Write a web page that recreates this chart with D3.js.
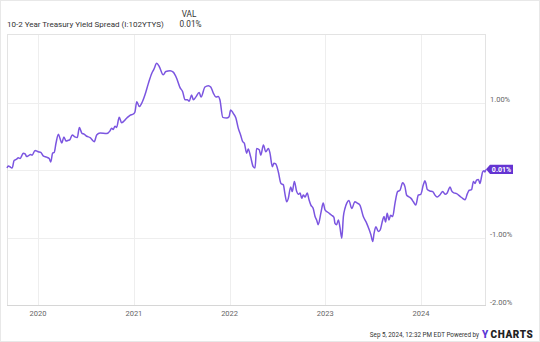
<!DOCTYPE html>
<html><head><meta charset="utf-8">
<script src="https://cdn.jsdelivr.net/npm/d3@7/dist/d3.min.js"></script>
<style>html,body{margin:0;padding:0;background:#fff;}svg{display:block;font-family:Roboto,"Noto Sans",sans-serif;}</style>
</head><body>
<svg id="c" width="540" height="342"></svg>
<script>
const seriesName = "10-2 Year Treasury Yield Spread (I:102YTYS)";
const lastValueLabel = "0.01%";
const dates = ["2019-09-05","2019-09-10","2019-09-19","2019-09-25","2019-10-02","2019-10-12","2019-10-18","2019-10-25","2019-10-31","2019-11-06","2019-11-13","2019-11-19","2019-11-25","2019-12-04","2019-12-10","2019-12-21","2020-01-02","2020-01-12","2020-01-21","2020-02-03","2020-02-13","2020-02-19","2020-02-26","2020-03-03","2020-03-10","2020-03-19","2020-03-25","2020-04-01","2020-04-09","2020-04-17","2020-04-26","2020-05-02","2020-05-11","2020-05-21","2020-05-30","2020-06-07","2020-06-16","2020-06-25","2020-07-05","2020-07-18","2020-08-03","2020-08-12","2020-08-25","2020-09-19","2020-10-02","2020-10-08","2020-10-14","2020-10-21","2020-10-27","2020-11-06","2020-11-15","2020-12-05","2020-12-17","2020-12-30","2021-01-05","2021-01-12","2021-01-22","2021-01-31","2021-02-12","2021-02-25","2021-03-10","2021-03-18","2021-03-29","2021-04-08","2021-04-23","2021-05-03","2021-05-19","2021-05-31","2021-06-13","2021-06-26","2021-07-06","2021-07-15","2021-07-24","2021-07-31","2021-08-09","2021-08-16","2021-08-25","2021-09-07","2021-09-14","2021-09-29","2021-10-12","2021-10-21","2021-10-31","2021-11-10","2021-11-19","2021-11-25","2021-12-06","2021-12-21","2021-12-30","2022-01-05","2022-01-15","2022-01-25","2022-02-03","2022-02-12","2022-02-20","2022-02-26","2022-03-07","2022-03-13","2022-03-22","2022-04-01","2022-04-08","2022-04-14","2022-04-24","2022-04-30","2022-05-10","2022-05-19","2022-05-29","2022-06-04","2022-06-13","2022-06-19","2022-06-26","2022-07-06","2022-07-16","2022-07-25","2022-07-31","2022-08-07","2022-08-13","2022-08-22","2022-08-28","2022-09-05","2022-09-14","2022-09-20","2022-09-27","2022-10-03","2022-10-09","2022-10-16","2022-10-24","2022-10-31","2022-11-07","2022-11-16","2022-11-23","2022-11-29","2022-12-05","2022-12-16","2022-12-24","2022-12-31","2023-01-12","2023-01-25","2023-02-03","2023-02-07","2023-02-13","2023-02-20","2023-02-26","2023-03-05","2023-03-11","2023-03-17","2023-03-24","2023-04-01","2023-04-12","2023-04-24","2023-05-03","2023-05-13","2023-05-26","2023-06-08","2023-06-18","2023-06-24","2023-07-01","2023-07-06","2023-07-13","2023-07-22","2023-07-29","2023-08-08","2023-08-13","2023-08-19","2023-08-25","2023-09-01","2023-09-07","2023-09-15","2023-09-24","2023-10-04","2023-10-13","2023-10-23","2023-11-01","2023-11-07","2023-11-17","2023-11-24","2023-12-03","2023-12-12","2023-12-22","2023-12-31","2024-01-10","2024-01-16","2024-01-20","2024-01-25","2024-02-04","2024-02-15","2024-02-23","2024-03-03","2024-03-13","2024-03-24","2024-04-02","2024-04-10","2024-04-21","2024-04-27","2024-05-06","2024-05-16","2024-05-29","2024-06-08","2024-06-17","2024-06-26","2024-07-03","2024-07-12","2024-07-19","2024-07-25","2024-07-31","2024-08-07","2024-08-13","2024-08-19","2024-08-23","2024-08-28","2024-09-01","2024-09-05"];
const spread = [0.03,0.06,0.04,0.03,0.14,0.16,0.18,0.17,0.21,0.25,0.24,0.20,0.21,0.23,0.22,0.29,0.27,0.26,0.21,0.19,0.17,0.12,0.25,0.26,0.40,0.53,0.47,0.40,0.49,0.43,0.44,0.45,0.52,0.49,0.48,0.63,0.55,0.53,0.50,0.48,0.42,0.52,0.55,0.54,0.58,0.62,0.60,0.65,0.63,0.78,0.70,0.77,0.81,0.83,0.86,1.01,0.94,0.99,1.11,1.28,1.43,1.49,1.58,1.53,1.41,1.46,1.47,1.45,1.36,1.22,1.16,1.04,1.04,1.02,1.11,1.04,1.08,1.15,1.08,1.23,1.25,1.23,1.14,1.08,1.09,1.04,0.78,0.77,0.79,0.89,0.84,0.77,0.62,0.52,0.42,0.40,0.25,0.31,0.20,0.05,0.03,0.32,0.30,0.22,0.37,0.27,0.32,0.25,0.05,0.10,0.09,-0.03,-0.20,-0.22,-0.35,-0.47,-0.42,-0.25,-0.32,-0.17,-0.32,-0.36,-0.34,-0.42,-0.37,-0.40,-0.34,-0.44,-0.52,-0.57,-0.69,-0.74,-0.81,-0.62,-0.49,-0.59,-0.63,-0.67,-0.70,-0.79,-0.81,-0.74,-0.85,-1.01,-0.69,-0.57,-0.49,-0.45,-0.57,-0.47,-0.49,-0.52,-0.69,-0.79,-0.89,-0.96,-1.06,-0.94,-0.84,-0.91,-0.89,-0.74,-0.69,-0.77,-0.64,-0.74,-0.67,-0.69,-0.49,-0.32,-0.30,-0.19,-0.25,-0.37,-0.40,-0.42,-0.47,-0.52,-0.37,-0.36,-0.22,-0.16,-0.20,-0.29,-0.31,-0.32,-0.37,-0.40,-0.37,-0.32,-0.36,-0.34,-0.25,-0.31,-0.34,-0.35,-0.39,-0.42,-0.44,-0.35,-0.30,-0.29,-0.17,-0.20,-0.15,-0.14,-0.20,-0.10,-0.03,-0.01,-0.03,0.01];
const yTicks = [1, -1, -2];
const yTickLabels = ["1.00%", "-1.00%", "-2.00%"];
const xTickYears = ["2020","2021","2022","2023","2024"];
const footerText = "Sep 5, 2024, 12:32 PM EDT Powered by";

const parse = d3.timeParse("%Y-%m-%d");
const data = dates.map((d,i)=>({date: parse(d), v: spread[i]}));

const svg = d3.select("#c");
const L = 7, R = 486, T = 34, B = 305;

// outer border
svg.append("rect").attr("x",0.5).attr("y",0.5).attr("width",539).attr("height",341)
  .attr("fill","none").attr("stroke","#e8e8e8");

const x = d3.scaleTime().domain([parse("2019-09-05"), parse("2024-09-05")]).range([L, R]);
const y = d3.scaleLinear().domain([-2, 2.015]).range([B, T]);

// gridlines
const g = svg.append("g");
g.selectAll("line.h").data([1,0,-1]).join("line")
  .attr("x1",L).attr("x2",R).attr("y1",d=>Math.round(y(d))+0.5).attr("y2",d=>Math.round(y(d))+0.5)
  .attr("stroke","#eeeeee");
g.selectAll("line.v").data(xTickYears).join("line")
  .attr("y1",T).attr("y2",B).attr("x1",d=>Math.round(x(parse(d+"-01-01")))+0.5).attr("x2",d=>Math.round(x(parse(d+"-01-01")))+0.5)
  .attr("stroke","#eeeeee");

// plot frame
svg.append("rect").attr("x",L+0.5).attr("y",T+0.5).attr("width",R-L-1).attr("height",B-T)
  .attr("fill","none").attr("stroke","#e3e3e3");
svg.append("line").attr("x1",L).attr("x2",R).attr("y1",B+0.5).attr("y2",B+0.5).attr("stroke","#d6d6d6");

// line
svg.append("path").datum(data)
  .attr("d", d3.line().x(d=>x(d.date)).y(d=>y(d.v)).curve(d3.curveMonotoneX))
  .attr("fill","none").attr("stroke","#7b55e0").attr("stroke-width",1.5).attr("stroke-linejoin","round");

// y labels
svg.selectAll("text.yl").data(yTicks).join("text")
  .attr("x",490).attr("y",d=>y(d)-0.5).text((d,i)=>yTickLabels[i])
  .attr("font-size",7.5).attr("fill","#666");

// x labels
svg.selectAll("text.xl").data(xTickYears).join("text")
  .attr("x",d=>x(parse(d+"-01-01"))).attr("y",315.5).attr("text-anchor","middle").text(d=>d)
  .attr("font-size",7.5).attr("fill","#666");

// last value tag
const last = data[data.length-1];
const lx = x(last.date), ly = y(last.v);
svg.append("path").attr("d",`M${lx},${ly} L${lx+4},${ly-4.7} L${lx+27},${ly-4.7} L${lx+27},${ly+4.7} L${lx+4},${ly+4.7} Z`)
  .attr("fill","#6434d2");
svg.append("text").attr("x",lx+15.5).attr("y",ly+2.6).attr("text-anchor","middle").text(lastValueLabel)
  .attr("font-size",7).attr("font-weight","bold").attr("fill","#fff");

// legend
svg.append("text").attr("x",7).attr("y",27).text(seriesName).attr("font-size",8).attr("fill","#333");
svg.append("text").attr("x",189).attr("y",17).attr("text-anchor","middle").text("VAL").attr("font-size",8.2).attr("fill","#333");
svg.append("text").attr("x",190.5).attr("y",27).attr("text-anchor","middle").text(lastValueLabel).attr("font-size",8.2).attr("fill","#333");

// footer
svg.append("text").attr("x",479).attr("y",336.5).attr("text-anchor","end").text(footerText)
  .attr("font-size",6.3).attr("fill","#333");
svg.append("text").attr("x",482).attr("y",337.5).attr("font-size",10).attr("font-weight",900)
  .attr("fill","#5b3bd6").text("Y");
svg.append("text").attr("x",490.5).attr("y",337.5).attr("font-size",10).attr("font-weight",900)
  .attr("fill","#222").attr("letter-spacing",0.6).text("CHARTS");
</script>
</body></html>
